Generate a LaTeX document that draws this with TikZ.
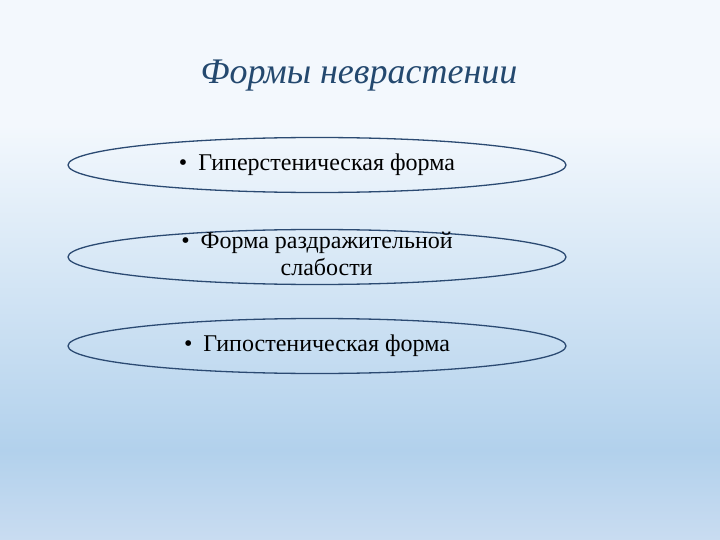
\documentclass[tikz,border=0pt]{standalone}
\usepackage{fontspec}
\setmainfont{Liberation Serif}
\usetikzlibrary{shapes.geometric}
\definecolor{titleblue}{HTML}{24496F}
\definecolor{rimblue}{HTML}{2B4A72}
\definecolor{skytop}{HTML}{F3F8FD}
\definecolor{skymid}{HTML}{B2D1EC}
\definecolor{skylow}{HTML}{C9DCF1}

\begin{document}
\begin{tikzpicture}[x=1pt, y=-1pt]
        \tikzstyle{form}=[draw=rimblue, line width=1.3pt, shape=ellipse, minimum width=498pt, minimum height=55pt, inner xsep=0pt, inner ysep=-22pt, font=\fontsize{24}{27}\selectfont]
        \tikzstyle{heading}=[text=titleblue, font=\fontsize{36}{40}\selectfont\itshape]

        % background
        \fill[skytop] (0,0) rectangle (720,126);
        \shade[top color=skytop, bottom color=skymid] (0,125) rectangle (720,451);
        \shade[top color=skymid, bottom color=skylow] (0,450) rectangle (720,540);
        \useasboundingbox (0,0) rectangle (720,540);

        \node[heading](title) at (359,76){Формы неврастении};

        \node[form](hyper) at (317,165){\textbullet\hspace{11pt}Гиперстеническая форма};
        \node[form](weak) at (317,257){\textbullet\hspace{11pt}\begin{tabular}[t]{@{}c@{}}Форма раздражительной\\слабости\end{tabular}};
        \node[form](hypo) at (317,346){\textbullet\hspace{11pt}Гипостеническая форма};

\end{tikzpicture}
\end{document}
